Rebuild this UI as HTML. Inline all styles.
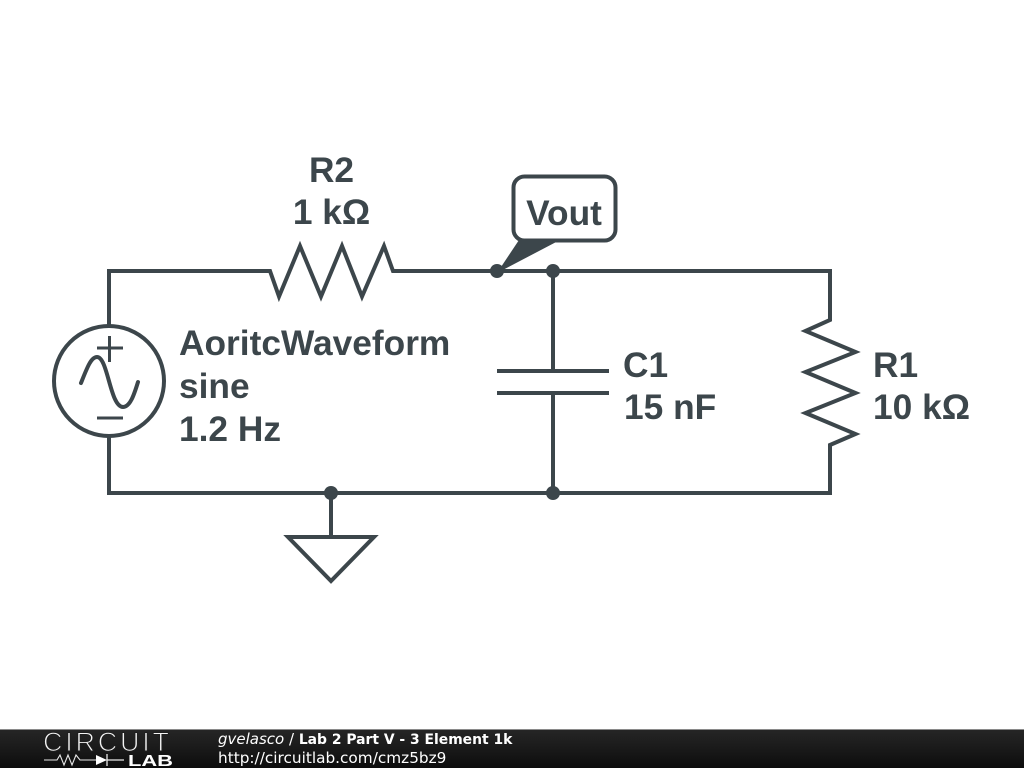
<!DOCTYPE html>
<html>
<head>
<meta charset="utf-8">
<style>
html,body{margin:0;padding:0;background:#fff;}
svg{display:block;}
.t{font-family:"Liberation Sans",sans-serif;font-weight:bold;font-size:35.300px;fill:#3c464b;}
.f{font-family:"DejaVu Sans",sans-serif;font-size:13.900px;fill:#fff;}
</style>
</head>
<body>
<svg width="1024" height="768" viewBox="0 0 1024 768" xmlns="http://www.w3.org/2000/svg">
<defs>
<linearGradient id="bar" x1="0" y1="0" x2="0" y2="1">
<stop offset="0" stop-color="#262626"/><stop offset="0.5" stop-color="#1a1a1a"/><stop offset="1" stop-color="#0c0c0c"/>
</linearGradient>
</defs>
<rect width="1024" height="768" fill="#fff"/>
<g fill="none" stroke="#3c464b" stroke-width="4" stroke-linejoin="miter">
<path d="M109 326V271H270L279 296.500L300 246L321 296.500L342 246L362 296.500L384 246L393 271H830V320L805.500 331L855.500 352L805.500 372L855.500 393L805.500 413L855.500 434L830 445V493H109V436"/>
<circle cx="109" cy="381" r="55"/>
<path d="M97 348H123M109.500 336V362M97 418H123" stroke-width="3"/>
<path d="M81 383C87 368 91 357 97 357C108 357 110 407 123 407C130 407 134 395 138 382" stroke-linecap="round"/>
<path d="M553 271V371M497 371H609M497 393H609M553 393V493"/>
<path d="M331 493V537M288 537H374L331 581Z"/>
<rect x="513.500" y="176.500" width="102" height="64" rx="11" ry="11" fill="#fff"/>
</g>
<path d="M519 240H560L497 273Z" fill="#3c464b"/>
<g fill="#3c464b">
<circle cx="497" cy="271" r="7"/>
<circle cx="553" cy="271" r="7"/>
<circle cx="331" cy="493" r="7"/>
<circle cx="553" cy="493" r="7"/>
</g>
<g class="t">
<text x="331.500" y="182" text-anchor="middle">R2</text>
<text x="331.500" y="224" text-anchor="middle">1 kΩ</text>
<text x="564" y="225" text-anchor="middle">Vout</text>
<text x="179" y="355">AoritcWaveform</text>
<text x="179" y="398">sine</text>
<text x="179" y="441">1.2 Hz</text>
<text x="623" y="377">C1</text>
<text x="624" y="419">15 nF</text>
<text x="873" y="377">R1</text>
<text x="873" y="419">10 kΩ</text>
</g>
<rect x="0" y="729" width="1024" height="39" fill="url(#bar)"/>
<rect x="0" y="729" width="1024" height="1" fill="#8a8a8a"/>
<text x="43" y="751" font-family="Liberation Sans, sans-serif" font-size="27" fill="#f4f4f4" stroke="#1f1f1f" stroke-width="1.100" textLength="126" lengthAdjust="spacing">CIRCUIT</text>
<text x="128" y="766" font-family="Liberation Sans, sans-serif" font-weight="bold" font-size="16" fill="#fff" textLength="45" lengthAdjust="spacingAndGlyphs">LAB</text>
<path d="M44 760H57L60 755L64 765L68 755L72 765L76 755L80 760H96" fill="none" stroke="#e8e8e8" stroke-width="1.100"/>
<path d="M96 755L107 760L96 765Z" fill="#fff"/>
<path d="M107 754V766M107 760H124" stroke="#e8e8e8" stroke-width="1.300" fill="none"/>
<text class="f" x="218" y="744"><tspan font-style="italic" font-size="15">gvelasco</tspan><tspan font-size="15"> / </tspan><tspan font-weight="bold">Lab 2 Part V - 3 Element 1k</tspan></text>
<text class="f" x="218" y="763" style="font-size:15.300px">http://circuitlab.com/cmz5bz9</text>
</svg>
</body>
</html>
